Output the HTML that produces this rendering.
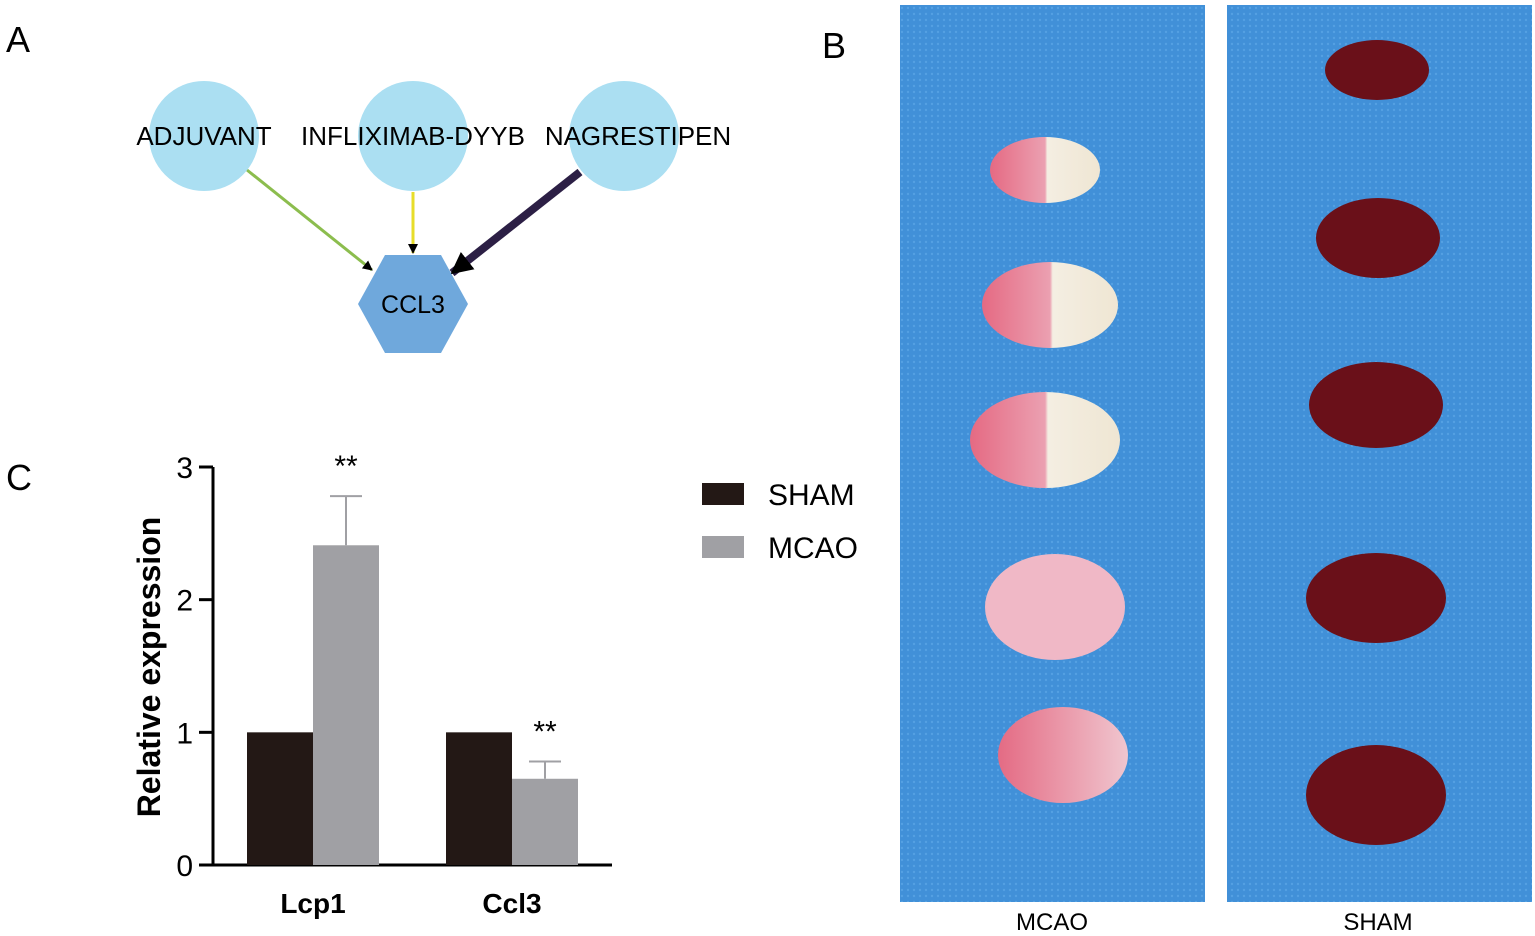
<!DOCTYPE html>
<html><head><meta charset="utf-8"><style>
html,body{margin:0;padding:0;background:#fff;width:1535px;height:936px;overflow:hidden;font-family:"Liberation Sans",Arial,sans-serif}
</style></head><body>
<svg id="fig" width="1535" height="936" viewBox="0 0 1535 936" xmlns="http://www.w3.org/2000/svg" font-family="Liberation Sans, Arial, sans-serif">
<defs>
 <marker id="ah" markerWidth="10" markerHeight="10" refX="9" refY="5" orient="auto" markerUnits="userSpaceOnUse"><path d="M0,0 L10,5 L0,10 z" fill="#000"/></marker>
 <marker id="ah2" markerWidth="22" markerHeight="22" refX="20" refY="11" orient="auto" markerUnits="userSpaceOnUse"><path d="M0,0 L22,11 L0,22 z" fill="#000"/></marker>
 <linearGradient id="mc" x1="0" x2="1" y1="0" y2="0"><stop offset="0" stop-color="#e56a83"/><stop offset="0.5" stop-color="#eba0b1"/><stop offset="0.52" stop-color="#f4eee2"/><stop offset="1" stop-color="#efe6d3"/></linearGradient>
 <linearGradient id="mc2" x1="0" x2="1" y1="0" y2="0"><stop offset="0" stop-color="#e46b84"/><stop offset="1" stop-color="#f0c6cf"/></linearGradient>
 <pattern id="tex" width="6" height="6" patternUnits="userSpaceOnUse"><rect width="6" height="6" fill="#4190d8"/><circle cx="2" cy="2" r="1.2" fill="#54a0e2"/></pattern>
</defs>

<text x="6" y="52" font-size="36">A</text>
<g>
 <line x1="247" y1="170" x2="372" y2="270" stroke="#8cbd4e" stroke-width="3" marker-end="url(#ah)"/>
 <line x1="413" y1="192" x2="413" y2="253" stroke="#e7dd2a" stroke-width="3" marker-end="url(#ah)"/>
 <line x1="580" y1="172" x2="452" y2="273" stroke="#2c1f45" stroke-width="8" marker-end="url(#ah2)"/>
 <circle cx="204" cy="136" r="55" fill="#abdff2"/>
 <circle cx="413" cy="136" r="55" fill="#abdff2"/>
 <circle cx="624" cy="136" r="55" fill="#abdff2"/>
 <text x="204" y="145" font-size="26" text-anchor="middle">ADJUVANT</text>
 <text x="413" y="145" font-size="26" text-anchor="middle">INFLIXIMAB-DYYB</text>
 <text x="638" y="145" font-size="26" text-anchor="middle">NAGRESTIPEN</text>
 <polygon points="385,255 441,255 468,304 441,353 385,353 358,304" fill="#6fa8dc"/>
 <text x="413" y="313" font-size="25" text-anchor="middle">CCL3</text>
</g>

<text x="822" y="58" font-size="36">B</text>
<rect x="900" y="5" width="305" height="897" fill="url(#tex)"/>
<rect x="1227" y="5" width="305" height="897" fill="url(#tex)"/>
<g id="brains"></g>
<text x="1052" y="930" font-size="24" text-anchor="middle">MCAO</text>
<text x="1378" y="930" font-size="24" text-anchor="middle">SHAM</text>

<text x="6" y="490" font-size="36">C</text>
<g id="chart"></g>
</svg>
<script>
var NS="http://www.w3.org/2000/svg";
function mk(p,t,a){var e=document.createElementNS(NS,t);for(var k in a)e.setAttribute(k,a[k]);p.appendChild(e);return e;}

var bg=document.getElementById('brains');
var mcaoBrains=[[1045,170,55,33],[1050,305,68,43],[1045,440,75,48],[1055,607,70,53],[1063,755,65,48]];
var shamBrains=[[1377,70,52,30],[1378,238,62,40],[1376,405,67,43],[1376,598,70,45],[1376,795,70,50]];
mcaoBrains.forEach(function(b,i){
 var e=mk(bg,'ellipse',{cx:b[0],cy:b[1],rx:b[2],ry:b[3],fill:i>=3?(i==3?'#f0b8c6':'url(#mc2)'):'url(#mc)'});
 
 
});
shamBrains.forEach(function(b){
 var e=mk(bg,'ellipse',{cx:b[0],cy:b[1],rx:b[2],ry:b[3],fill:'#6a1019'});
 
 
});

var categories=["Lcp1","Ccl3"];
var shamValues=[1,1];
var mcaoValues=[2.41,0.65];
var mcaoErrors=[0.37,0.13];
var yTicks=[0,1,2,3];
var sigLabels=["**","**"];
var seriesNames=["SHAM","MCAO"];

var g=document.getElementById('chart');
var x0=213,x1=612,y0=865,y3=467;
function y(v){return y0-(v/3)*(y0-y3);}
var groupCenter=[313,512],bw=66;

var ax=mk(g,'line',{x1:x0,y1:y3,x2:x0,y2:y0+1.5,stroke:'#000','stroke-width':3});


var xa=mk(g,'line',{x1:x0-1.5,y1:y0,x2:x1,y2:y0,stroke:'#000','stroke-width':3});


yTicks.forEach(function(t){
 var l=mk(g,'line',{x1:x0-14,y1:y(t),x2:x0,y2:y(t),stroke:'#000','stroke-width':3});
 
 
 var tx=mk(g,'text',{x:x0-20,y:y(t)+11,'font-size':30,'text-anchor':'end'});tx.textContent=t;
 
 
});
var yl=mk(g,'text',{x:160,y:667,'font-size':32,'font-weight':'bold','text-anchor':'middle',transform:'rotate(-90 160 667)'});
yl.textContent='Relative expression';



categories.forEach(function(c,i){
 var cx=groupCenter[i];
 var b1=mk(g,'rect',{x:cx-bw,y:y(shamValues[i]),width:bw,height:y0-y(shamValues[i]),fill:'#231815'});
 
 
 var top=mcaoValues[i]+mcaoErrors[i];
 var eb=mk(g,'line',{x1:cx+bw/2,y1:y(mcaoValues[i]),x2:cx+bw/2,y2:y(top),stroke:'#a0a0a4','stroke-width':2});
 
 
 var ec=mk(g,'line',{x1:cx+bw/2-16,y1:y(top),x2:cx+bw/2+16,y2:y(top),stroke:'#a0a0a4','stroke-width':2});
 
 
 var b2=mk(g,'rect',{x:cx,y:y(mcaoValues[i]),width:bw,height:y0-y(mcaoValues[i]),fill:'#a0a0a4'});
 
 
 var s=mk(g,'text',{x:cx+bw/2,y:y(top)-20,'font-size':30,'text-anchor':'middle'});s.textContent=sigLabels[i];
 
 
 var cl=mk(g,'text',{x:cx,y:913,'font-size':28,'font-weight':'bold','text-anchor':'middle'});cl.textContent=c;
 
 
});

var legCol=['#231815','#a0a0a4'];
seriesNames.forEach(function(n,i){
 var r=mk(g,'rect',{x:702,y:483+i*53,width:42,height:22,fill:legCol[i]});
 
 
 var t=mk(g,'text',{x:768,y:505+i*53,'font-size':30});t.textContent=n;
 
 
});
</script>
</body></html>
